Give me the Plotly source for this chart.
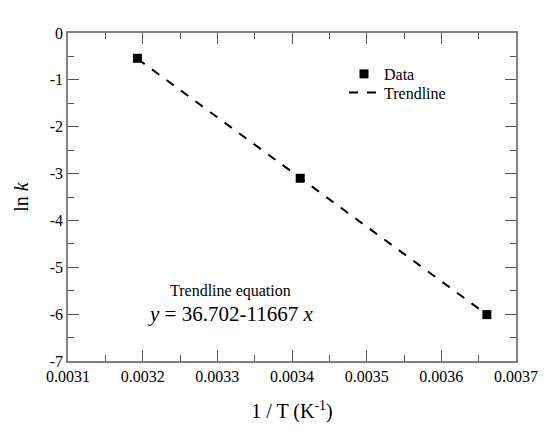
import plotly.graph_objects as go

# Data
inv_T = [0.003193, 0.003411, 0.003661]
ln_k = [-0.54, -3.10, -6.01]

trend_x = [0.003193, 0.003661]
trend_y = [-0.55, -6.01]

x_ticks = [0.0031, 0.0032, 0.0033, 0.0034, 0.0035, 0.0036, 0.0037]
x_ticklabels = ["0.0031", "0.0032", "0.0033", "0.0034", "0.0035", "0.0036", "0.0037"]
y_ticks = [0, -1, -2, -3, -4, -5, -6, -7]

FONT = "Liberation Serif"

fig = go.Figure()
fig.add_trace(go.Scatter(
    x=trend_x, y=trend_y, mode="lines", name="Trendline",
    line=dict(color="black", width=2, dash="dash"), legend="legend2"))
fig.add_trace(go.Scatter(
    x=inv_T, y=ln_k, mode="markers", name="Data",
    marker=dict(symbol="square", size=9, color="black"), legend="legend"))

axis_common = dict(
    showgrid=False, zeroline=False, showline=True, linecolor="#808080",
    linewidth=1.5, mirror="ticks", ticks="inside", ticklen=11,
    tickcolor="#555555", tickwidth=1,
    tickfont=dict(family=FONT, size=16, color="black"),
    minor=dict(ticks="inside", ticklen=6, tickcolor="#555555", tickwidth=1),
)

fig.update_xaxes(
    range=[0.0031, 0.0037], tickvals=x_ticks, ticktext=x_ticklabels,
    title=dict(text="1 / T (K<sup>-1</sup>)", font=dict(family=FONT, size=20, color="black"),
               standoff=20),
    **axis_common)
fig.update_yaxes(
    range=[-7, 0], tickvals=y_ticks, ticktext=[str(v) for v in y_ticks],
    title=dict(text="ln <i>k</i>", font=dict(family=FONT, size=20, color="black"),
               standoff=16),
    **axis_common)

fig.add_annotation(text="Trendline equation", xref="paper", yref="paper",
                   x=(230 - 68) / 448, y=(361 - 291) / 328, showarrow=False,
                   xanchor="center", yanchor="middle",
                   font=dict(family=FONT, size=16, color="black"))
fig.add_annotation(text="<i>y</i> = 36.702-11667 <i>x</i>", xref="paper", yref="paper",
                   x=(230 - 68) / 448, y=(361 - 314) / 328, showarrow=False,
                   xanchor="center", yanchor="middle",
                   font=dict(family=FONT, size=21, color="black"))

legend_common = dict(xanchor="left", yanchor="middle", bgcolor="rgba(0,0,0,0)",
                     font=dict(family=FONT, size=16, color="black"), itemwidth=30)

fig.update_layout(
    width=560, height=446,
    margin=dict(l=68, r=44, t=33, b=85),
    paper_bgcolor="white", plot_bgcolor="white",
    font=dict(family=FONT),
    showlegend=True,
    legend=dict(x=(344 - 68) / 448, y=(361 - 74) / 328, **legend_common),
    legend2=dict(x=(344 - 68) / 448, y=(361 - 92.5) / 328, **legend_common),
)

fig.write_html("out.html")
